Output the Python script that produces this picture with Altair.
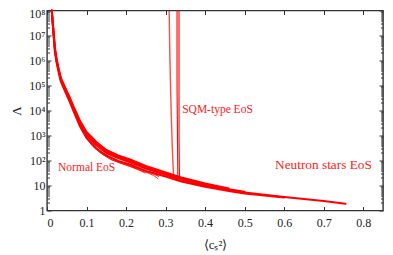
import altair as alt
import pandas as pd

# ---- data (x = <c_s^2>, values are log10(Lambda)) ----
ns_x = [0.012, 0.016, 0.020, 0.024, 0.029, 0.035, 0.046, 0.058, 0.067, 0.083, 0.100, 0.125,
        0.150, 0.180, 0.210, 0.250, 0.300, 0.340, 0.400, 0.460, 0.500, 0.600, 0.700, 0.755]
ns_center_log = [8.00, 7.20, 6.42, 6.00, 5.62, 5.22, 4.82, 4.40, 4.06, 3.48, 3.00, 2.60,
                 2.30, 2.10, 1.93, 1.68, 1.43, 1.23, 1.00, 0.82, 0.72, 0.54, 0.38, 0.27]
ns_upper_log = [8.00, 7.26, 6.50, 6.08, 5.70, 5.30, 4.91, 4.50, 4.16, 3.60, 3.14, 2.74,
                2.42, 2.20, 2.04, 1.78, 1.52, 1.32, 1.08, 0.88]
ns_mid_log = [8.00, 7.23, 6.46, 6.04, 5.66, 5.26, 4.87, 4.45, 4.11, 3.54, 3.07, 2.67,
              2.36, 2.14, 1.98, 1.72, 1.47, 1.27, 1.04, 0.85, 0.75]
ns_lower_log = [8.00, 7.14, 6.36, 5.94, 5.56, 5.16, 4.76, 4.33, 3.98, 3.38, 2.90, 2.48,
                2.20, 1.98, 1.84, 1.58, 1.36, 1.16, 0.95, 0.78, 0.68, 0.52]

n1_x = [0.080, 0.090, 0.100, 0.115, 0.135, 0.160, 0.185, 0.210, 0.230, 0.248]
n1_log = [3.55, 3.18, 2.90, 2.58, 2.30, 2.05, 1.90, 1.78, 1.64, 1.50]
n2_x = [0.082, 0.092, 0.105, 0.120, 0.140, 0.165, 0.195, 0.225, 0.255, 0.270, 0.281]
n2_log = [3.45, 3.12, 2.80, 2.52, 2.26, 2.02, 1.84, 1.67, 1.50, 1.40, 1.27]
n3_x = [0.085, 0.100, 0.115, 0.135, 0.160, 0.190, 0.220, 0.250, 0.270, 0.283, 0.280]
n3_log = [3.30, 2.92, 2.62, 2.36, 2.12, 1.90, 1.73, 1.58, 1.45, 1.36, 1.40]

s1_x = [0.309, 0.311, 0.314, 0.317, 0.320]
s1_log = [8.0, 6.0, 4.0, 2.5, 1.42]
s2_x = [0.329, 0.329, 0.330, 0.331]
s2_log = [8.0, 5.0, 3.0, 1.36]
s3_x = [0.334, 0.334, 0.334, 0.335]
s3_log = [8.0, 5.0, 3.0, 1.33]

label_text = ["SQM-type EoS", "Normal EoS", "Neutron stars EoS"]
label_x = [0.342, 0.028, 0.577]
label_log = [4.02, 1.70, 1.82]
label_size = [11.5, 11.5, 13.3]

x_ticks = [0, 0.1, 0.2, 0.3, 0.4, 0.5, 0.6, 0.7, 0.8]
y_major = [10.0 ** k for k in range(0, 9)]
y_minor = [m * 10.0 ** k for k in range(0, 8) for m in range(2, 10)]

# ---- build long table (name, x, log10 Lambda, stroke width, opacity) ----
curves = [
    ("ns_c", ns_x, ns_center_log, 2.0, 1.0),
    ("ns_u", ns_x, ns_upper_log, 2.0, 1.0),
    ("ns_m", ns_x, ns_mid_log, 2.0, 1.0),
    ("ns_l", ns_x, ns_lower_log, 2.0, 1.0),
    ("n1", n1_x, n1_log, 0.8, 1.0),
    ("n2", n2_x, n2_log, 0.8, 1.0),
    ("n3", n3_x, n3_log, 0.8, 1.0),
    ("s1", s1_x, s1_log, 1.4, 0.7),
    ("s2", s2_x, s2_log, 1.1, 1.0),
    ("s3", s3_x, s3_log, 1.1, 1.0),
]
rows = []
for name, xs, ls, w, op in curves:
    for i, (xv, lv) in enumerate(zip(xs, ls)):
        rows.append({"curve": name, "i": i, "x": xv, "L": 10.0 ** lv, "w": w, "op": op})
df = pd.DataFrame(rows)

ann = pd.DataFrame({"text": label_text, "x": label_x,
                    "L": [10.0 ** v for v in label_log], "fs": label_size})

FONT = "Liberation Serif"
xscale = alt.Scale(domain=[0, 0.85], nice=False, zero=False)
yscale = alt.Scale(type="log", domain=[1, 1e8], nice=False)

sup = "['⁰','¹','²','³','⁴','⁵','⁶','⁷','⁸']"
ylab_expr = ("datum.value < 5 ? '1' : (datum.value < 50 ? '10' : '10' + "
             + sup + "[round(log(datum.value)/LN10)])")

common_axis = dict(domain=False, grid=False, tickColor="#333", tickWidth=1,
                   labelFont=FONT, labelFontSize=12, labelColor="#222",
                   titleFont=FONT, titleFontSize=13, titleColor="#222",
                   titleFontWeight="normal")

ax_bottom = alt.Axis(orient="bottom", values=x_ticks, tickSize={"expr": "-4"},
                     labelPadding=11,
                     labelExpr="datum.value == 0 ? '0' : format(datum.value, '.1f')",
                     title="⟨cₛ²⟩", titlePadding=10, **common_axis)
ax_top = alt.Axis(orient="top", values=x_ticks, tickSize={"expr": "-4"}, labels=False,
                  title=None, **common_axis)
ax_left = alt.Axis(orient="left", values=y_major, tickSize={"expr": "-4"}, labelPadding=6,
                   labelExpr=ylab_expr, labelOverlap=False,
                   labelOffset={"condition": {"test": "datum.value > 5e7", "value": 2.5},
                                "value": 0},
                   title="Λ", titlePadding=5, **common_axis)
ax_left_minor = alt.Axis(orient="left", values=y_minor, tickSize={"expr": "-2.5"},
                         labels=False, title=None, **common_axis)
ax_right = alt.Axis(orient="right", values=y_major, tickSize={"expr": "-4"}, labels=False,
                    title=None, **common_axis)
ax_right_minor = alt.Axis(orient="right", values=y_minor, tickSize={"expr": "-2.5"},
                          labels=False, title=None, **common_axis)

base = alt.Chart(df)

lines = base.mark_line(color="#ff0000", strokeCap="round", strokeJoin="round").encode(
    x=alt.X("x:Q", scale=xscale, axis=ax_bottom),
    y=alt.Y("L:Q", scale=yscale, axis=ax_left),
    detail="curve:N",
    order=alt.Order("i:Q"),
    strokeWidth=alt.StrokeWidth("w:Q", scale=None),
    opacity=alt.Opacity("op:Q", scale=None),
)

def ghost(xaxis, yaxis):
    return base.mark_point(opacity=0, size=1).encode(
        x=alt.X("x:Q", scale=xscale, axis=xaxis),
        y=alt.Y("L:Q", scale=yscale, axis=yaxis),
    )

g1 = ghost(ax_top, ax_right)
g2 = ghost(None, ax_left_minor)
g3 = ghost(None, ax_right_minor)

texts = alt.Chart(ann).mark_text(align="left", baseline="middle", font=FONT,
                                 color="#ff2020").encode(
    x=alt.X("x:Q", scale=xscale, axis=None),
    y=alt.Y("L:Q", scale=yscale, axis=None),
    text="text:N",
    size=alt.Size("fs:Q", scale=None),
)

chart = alt.layer(lines, g1, g2, g3, texts).resolve_axis(
    x="independent", y="independent"
).properties(
    width=336, height=200,
    autosize=alt.AutoSizeParams(type="none"),
    padding={"left": 39, "top": 2.5, "right": 2, "bottom": 46},
    background="white",
).configure_view(stroke="#333", strokeWidth=1.4)

chart.save("out.html", embed_options={"renderer": "svg", "actions": False})
